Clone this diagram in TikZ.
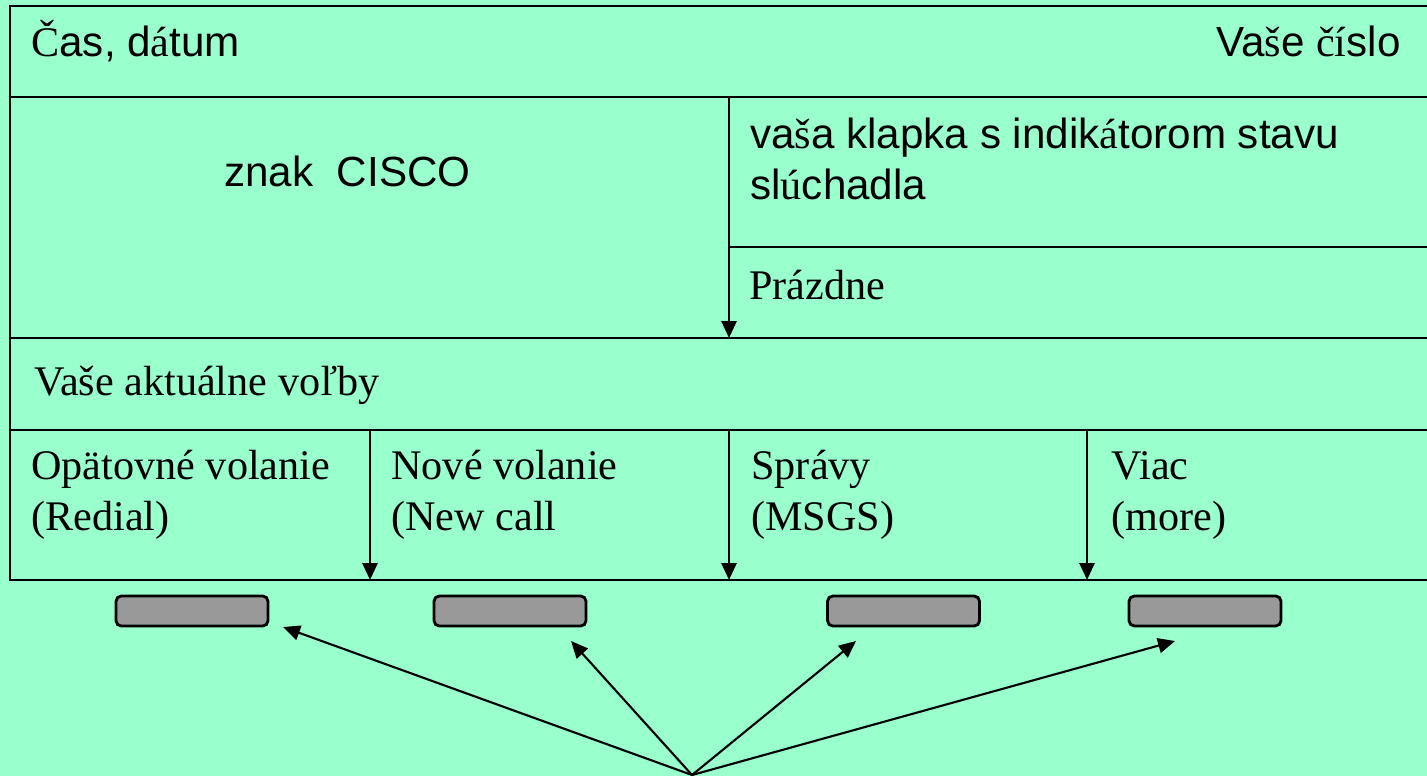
\documentclass[tikz,border=0pt]{standalone}
\usepackage{fontspec}
\setmainfont{Liberation Serif}
\newfontfamily\arial{Liberation Sans}
\newcommand{\ser}[1]{{\rmfamily #1}}
\usetikzlibrary{arrows.meta,positioning}
\definecolor{mint}{RGB}{153,255,204}
\definecolor{keygray}{RGB}{153,153,153}

\begin{document}
\begin{tikzpicture}[
	line width=0.8pt,
	txt/.style={anchor=base west,inner sep=0pt,align=left,font=\fontsize{12pt}{14.5pt}\selectfont},
	sans/.style={txt,font=\fontsize{12pt}{14.5pt}\selectfont\arial},
	softkey/.style={draw,fill=keygray,rounded corners=1.5pt,minimum width=1.52cm,minimum height=0.30cm,inner sep=0pt},
	pil/.style={-{Triangle[length=1.7mm,width=1.5mm]}}
]
	\fill[mint] (0,0) rectangle (14.27,7.76);
	\useasboundingbox (0,0) rectangle (14.27,7.76);
	% display frame
	\draw (14.40,7.70) -- (0.10,7.70) -- (0.10,1.96) -- (14.40,1.96);
	\draw (0.10,6.79) -- (14.40,6.79);
	\draw (7.29,5.29) -- (14.40,5.29);
	\draw (0.10,4.38) -- (14.40,4.38);
	\draw (0.10,3.46) -- (14.40,3.46);
	\coordinate (d1) at (7.29,6.79);
	\coordinate (d2) at (7.29,4.38);
	\coordinate (r1) at (3.70,3.46);
	\coordinate (r2) at (3.70,1.96);
	\coordinate (s1) at (7.29,3.46);
	\coordinate (s2) at (7.29,1.96);
	\coordinate (m1) at (10.87,3.46);
	\coordinate (m2) at (10.87,1.96);
	\draw[pil] (d1) -- (d2);
	\draw[pil] (r1) -- (r2);
	\draw[pil] (s1) -- (s2);
	\draw[pil] (m1) -- (m2);
	% texts (base = last line)
	\node[sans] (cas) at (0.30,7.19) {\ser{Č}as, d\ser{á}tum};
	\node[sans,anchor=base east] (cislo) at (14.02,7.19) {Va\ser{š}e \ser{čí}slo};
	\node[sans] (znak) at (2.23,5.90) {znak\ \ CISCO};
	\node[sans] (klapka) at (7.49,5.77) {va\ser{š}a klapka s indik\ser{á}torom stavu\\sl\ser{ú}chadla};
	\node[txt] (prazdne) at (7.48,4.77) {Prázdne};
	\node[txt] (volby) at (0.33,3.81) {Vaše aktuálne voľby};
	\node[txt] (redial) at (0.30,2.46) {Opätovné volanie\\(Redial)};
	\node[txt] (newcall) at (3.90,2.46) {Nové volanie\\(New call};
	\node[txt] (msgs) at (7.50,2.46) {Správy\\(MSGS)};
	\node[txt] (more) at (11.10,2.46) {Viac\\(more)};
	% soft keys
	\node[softkey] (k1) at (1.92,1.65) {};
	\node[softkey] (k2) at (5.10,1.65) {};
	\node[softkey] (k3) at (9.035,1.65) {};
	\node[softkey] (k4) at (12.05,1.65) {};
	\coordinate (src) at (6.92,0.01);
	\coordinate (p1) at (2.83,1.49);
	\coordinate (p2) at (5.71,1.35);
	\coordinate (p3) at (8.56,1.35);
	\coordinate (p4) at (11.75,1.35);
	\draw[pil,line width=0.6pt] (src) -- (p1);
	\draw[pil,line width=0.6pt] (src) -- (p2);
	\draw[pil,line width=0.6pt] (src) -- (p3);
	\draw[pil,line width=0.6pt] (src) -- (p4);
\end{tikzpicture}
\end{document}
